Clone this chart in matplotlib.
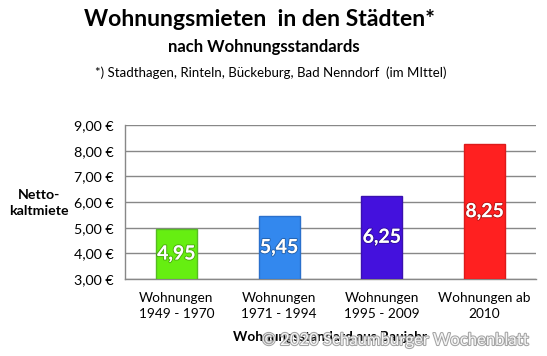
import matplotlib
matplotlib.use("Agg")
import matplotlib.pyplot as plt
import matplotlib.patheffects as pe

categories = ["Wohnungen\n1949 - 1970", "Wohnungen\n1971 - 1994", "Wohnungen\n1995 - 2009", "Wohnungen ab\n2010"]
values = [4.95, 5.45, 6.25, 8.25]
value_labels = ["4,95", "5,45", "6,25", "8,25"]
colors = ["#66ee11", "#3388ee", "#4411dd", "#ff2020"]
edges = ["#55bb22", "#2a70cc", "#3a10b0", "#dd1a1a"]
yticks = [3, 4, 5, 6, 7, 8, 9]
ytick_labels = ["3,00 €", "4,00 €", "5,00 €", "6,00 €", "7,00 €", "8,00 €", "9,00 €"]

plt.rcParams['font.family'] = ['Lato', 'DejaVu Sans']

W, H = 547, 356
fig = plt.figure(figsize=(W / 100, H / 100), dpi=100)
ax = fig.add_axes([125 / W, 1 - 279 / H, (536 - 125) / W, (279 - 125) / H])

x = range(len(categories))
bars = ax.bar(x, [v - 3 for v in values], bottom=3, width=0.4, color=colors,
              edgecolor=edges, linewidth=1, zorder=3)
for xi, v, lab in zip(x, values, value_labels):
    ax.text(xi, (v + 3) / 2, lab, ha='center', va='center', color='white',
            fontsize=14, fontweight='bold', zorder=4,
            path_effects=[pe.withStroke(linewidth=1.5, foreground='#00000040')])

ax.set_xlim(-0.5, 3.5)
ax.set_ylim(3, 9)
ax.set_yticks(yticks)
ax.set_yticklabels(ytick_labels, fontsize=10.3)
ax.set_xticks(list(x))
ax.set_xticklabels(categories, fontsize=9.8, linespacing=1.45)
ax.tick_params(axis='both', length=0)
ax.tick_params(axis='y', pad=8)
ax.tick_params(axis='x', pad=9)
ax.grid(axis='y', color='#888888', linewidth=1, zorder=0)
for s in ['top', 'right']:
    ax.spines[s].set_visible(False)
for s in ['left', 'bottom']:
    ax.spines[s].set_color('#888888')
    ax.spines[s].set_linewidth(1)

fig.text(259 / W, 1 - 20 / H, "Wohnungsmieten  in den Städten*", ha='center', va='center',
         fontsize=16.6, fontweight='bold')
fig.text(264 / W, 1 - 47 / H, "nach Wohnungsstandards", ha='center', va='center',
         fontsize=12, fontweight='bold')
fig.text(271 / W, 1 - 73 / H, "*) Stadthagen, Rinteln, Bückeburg, Bad Nenndorf  (im MIttel)",
         ha='center', va='center', fontsize=9.5)
fig.text(39 / W, 1 - 203 / H, "Netto-\nkaltmiete", ha='center', va='center',
         fontsize=10.2, fontweight='bold', linespacing=1.45)
fig.text(330 / W, 1 - 337 / H, "Wohnungsstandard aus Baujahr", ha='center', va='center',
         fontsize=9.8, fontweight='bold')
fig.text(395 / W, 1 - 340 / H, "© 2020 Schaumburger Wochenblatt", ha='center', va='center',
         fontsize=12, color='white', alpha=0.9,
         path_effects=[pe.withStroke(linewidth=1.5, foreground='#999999')])

fig.savefig("out.png", dpi=100)
